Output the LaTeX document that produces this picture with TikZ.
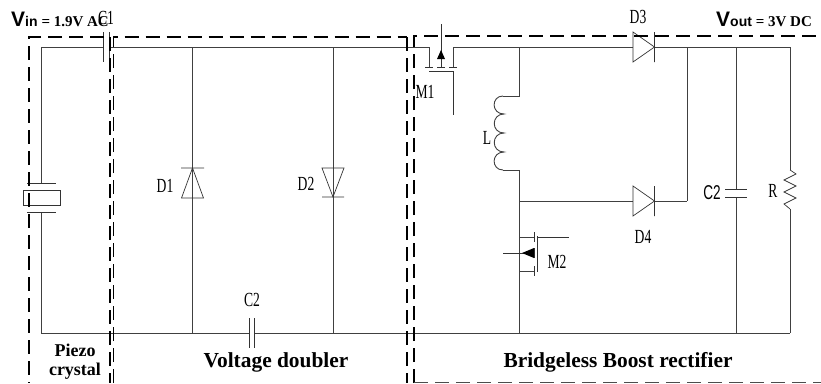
\documentclass[tikz,border=0pt]{standalone}
\usepackage{fontspec}
\setmainfont{Liberation Serif}
\setsansfont{Liberation Sans}
\usepackage{tkz-euclide}
\tikzset{
wire/.style={black!75,line width=.9pt},
part/.style={black!80,line width=.7pt},
boxa/.style={black,line width=1.7pt,dash pattern=on 14pt off 7pt},
boxb/.style={black,line width=1.2pt,dash pattern=on 14pt off 7pt},
lbl/.style={font=\fontsize{20}{20}\selectfont,transform shape,xscale=.68,inner sep=0pt},
tag/.style={font=\fontsize{21.4}{21.4}\selectfont\bfseries,inner sep=0pt}
}
\begin{document}
\begin{tikzpicture}[x=1pt,y=-1pt]
\useasboundingbox (0,0) rectangle (821,383);
\tkzDefPoints{41/47/A,41/183/B,41/212/C,41/333/D,103/47/E,109/47/F,192.5/47/G,192.5/168/G1,192.5/198/G2,192.5/333/G3,
333/47/H,333/168/H1,333/197/H2,333/333/H3,249/333/I,254/333/I1,429/47/J,429/67/J1,453/47/K,453/67/K1,429/71/J2,453/71/K2,453/115/K3,
441/24/M,441/67/M1,519.5/47/N,519.5/96/N1,503/96/N2,503/170/N3,519.5/170/N4,519.5/201/N5,519.5/237/N6,519.5/271/N7,519.5/333/N8,
633/47/P,654.5/47/P1,633/201/Q,654.5/201/Q1,687/47/S,687/201/S1,736/47/T,736/189/T1,736/197/T2,736/333/T3,
790/47/U,790/170/U1,790/209/U2,790/333/U3,534/237/V,534/271/V1,537/237/W,569/237/W1,503/253/X,534/253/X1}
% wires
\draw[wire](A)--(B)(C)--(D)(A)--(E)(F)--(J)(J)--(J1)(K1)--(K)(K)--(P)(P1)--(U)(U)--(U1)(U2)--(U3)
(D)--(I)(I1)--(U3)(G)--(G3)(H)--(H3)(S)--(S1)(T)--(T1)(T2)--(T3);
\draw[wire](N)--(N1)(N1)--(N2)(N3)--(N4)(N4)--(N8)(N5)--(Q)(Q1)--(S1)(N6)--(V)(N7)--(V1);
% capacitors and crystal
\draw[part](E)++(0,-15)--++(0,30)(F)++(0,-15)--++(0,30)(I)++(0,-15)--++(0,30)(I1)++(0,-15)--++(0,30)
(T1)++(-11,0)--++(22,0)(T2)++(-11,0)--++(22,0)(B)++(-14,0)--++(29,0)(C)++(-14,0)--++(29,0);
\draw[part](23,190) rectangle (60,205);
% diodes
\draw[part](G1)++(-11.5,0)--++(23,0)(G2)++(-11,0)--++(22,0)--(G1)--cycle;
\draw[part](H2)++(-11,0)--++(22,0)(H1)++(-11,0)--++(22,0)--(H2)--cycle;
\draw[part](P)++(0,-15)--++(0,30)--(P1)--cycle(P1)++(0,-15)--++(0,30);
\draw[part](Q)++(0,-15)--++(0,30)--(Q1)--cycle(Q1)++(0,-15)--++(0,30);
% M1
\draw[part](M)--(M1)(J2)--(K2)(K2)--(K3)(J1)++(-4,0)--++(8,0)(K1)++(-4,0)--++(8,0)(M1)++(-4,0)--++(8,0);
\fill[black](441,50)--(445,59)--(437,59)--cycle;
% M2
\draw[part](V)++(0,-5)--++(0,10)(V1)++(0,-5)--++(0,10)(X1)++(0,-5)--++(0,10)(W)++(0,-1)--++(0,36)(W)--(W1)(X)--(X1);
\fill[black](522,253)--(534,248)--(534,258)--cycle;
% coil and resistor
\draw[wire](N2)..controls(491,96)and(491,114)..(504,114)..controls(491,114)and(491,133)..(504,133)
..controls(491,133)and(491,152)..(504,152)..controls(491,152)and(491,170)..(N3);
\draw[part](U1)--(796,174)--(784,180)--(796,186)--(784,192)--(796,198)--(784,204)--(U2);
% block outlines
\draw[boxa](104,37)--(29,37)--(29,383);
\draw[boxa](110,37)--(110,383);
\draw[boxb](113.5,383)--(113.5,37)--(407,37);
\draw[boxa](407,37)--(407,383);
\draw[boxa,line width=1.5pt](414,383)--(414,36)--(821,36);
\draw[black!70,line width=.8pt,dash pattern=on 14pt off 7pt](414,382)--(821,382);
% labels
\node[lbl](c1) at (106,18){C1};
\node[lbl](d1) at (165,186){D1};
\node[lbl](d2) at (306,184){D2};
\node[lbl](c2) at (252,300){C2};
\node[lbl](m1) at (425,92){M1};
\node[lbl](l1) at (487,138){L};
\node[lbl](m2) at (557,262){M2};
\node[lbl](d3) at (638,17){D3};
\node[lbl](d4) at (643,237){D4};
\node[lbl,font=\fontsize{20}{20}\selectfont\sffamily](c3) at (712,193){C2};
\node[lbl](r1) at (773,191){R};
\node[tag,font=\fontsize{18}{18}\selectfont\bfseries](pz) at (75,350){Piezo};
\node[tag,font=\fontsize{18}{18}\selectfont\bfseries](cr) at (75,371){crystal};
\node[tag](vd) at (276,362){Voltage doubler};
\node[tag](bb) at (618,362){Bridgeless Boost rectifier};
\node[inner sep=0pt,anchor=base west](vi) at (11,26){\sffamily\bfseries\fontsize{21}{21}\selectfont V\fontsize{14}{14}\selectfont in \rmfamily\fontsize{15}{15}\selectfont = 1.9V AC};
\node[inner sep=0pt,anchor=base west](vo) at (716,26){\sffamily\bfseries\fontsize{21}{21}\selectfont V\fontsize{14}{14}\selectfont out \rmfamily\fontsize{15}{15}\selectfont = 3V DC};
\end{tikzpicture}
\end{document}
